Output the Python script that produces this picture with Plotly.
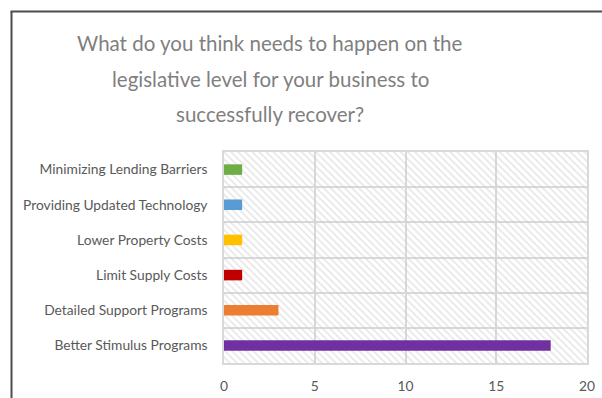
import plotly.graph_objects as go

# Survey responses, listed bottom-to-top as they appear on the chart
categories = [
    "Better Stimulus Programs",
    "Detailed Support Programs",
    "Limit Supply Costs",
    "Lower Property Costs",
    "Providing Updated Technology",
    "Minimizing Lending Barriers",
]
responses = [18, 3, 1, 1, 1, 1]
bar_colors = ["#7030A0", "#ED7D31", "#C00000", "#FFC000", "#5B9BD5", "#70AD47"]

x_ticks = [0, 5, 10, 15, 20]
x_max = 20

title_lines = [
    "What do you think needs to happen on the",
    "legislative level for your business to",
    "successfully recover?",
]

W, H = 602, 398
M_L, M_R, M_T, M_B = 224, 15, 152, 35
plot_w = W - M_L - M_R
plot_h = H - M_T - M_B


def px_x(px):
    return (px - M_L) / plot_w


def px_y(py):
    return (H - M_B - py) / plot_h


fig = go.Figure()

# diagonal hatch behind each category row
fig.add_trace(go.Bar(
    y=categories,
    x=[x_max] * len(categories),
    orientation="h",
    width=1,
    marker=dict(
        color="rgba(0,0,0,0)",
        line=dict(width=0),
        pattern=dict(shape="\\", fgcolor="#cccccc", bgcolor="rgba(0,0,0,0)",
                     size=5, solidity=0.3),
    ),
    hoverinfo="skip",
    showlegend=False,
))

fig.add_trace(go.Bar(
    y=categories,
    x=responses,
    orientation="h",
    width=0.3,
    marker=dict(color=bar_colors, line=dict(width=0)),
    showlegend=False,
))

label_font = dict(family="Lato, sans-serif", size=13.8, color="#595959")

fig.update_layout(
    width=W,
    height=H,
    margin=dict(l=M_L, r=M_R, t=M_T, b=M_B, autoexpand=False),
    paper_bgcolor="white",
    plot_bgcolor="white",
    barmode="overlay",
    xaxis=dict(
        range=[0, x_max],
        tickvals=x_ticks,
        showgrid=True,
        gridcolor="#d9d9d9",
        gridwidth=1.5,
        zeroline=False,
        showline=True,
        mirror=True,
        linecolor="#d9d9d9",
        linewidth=1.5,
        ticks="",
        ticklabelstandoff=10,
        tickfont=label_font,
        automargin=False,
        fixedrange=True,
    ),
    yaxis=dict(
        type="category",
        categoryorder="array",
        categoryarray=categories,
        range=[-0.5, len(categories) - 0.5],
        tickson="boundaries",
        showgrid=True,
        gridcolor="#d9d9d9",
        gridwidth=1.5,
        showline=True,
        mirror=True,
        linecolor="#d9d9d9",
        linewidth=1.5,
        ticks="",
        ticklabelstandoff=12,
        tickfont=label_font,
        automargin=False,
        fixedrange=True,
    ),
)

# multi-line chart title
title_centers = [43, 79, 114]
for text, cy in zip(title_lines, title_centers):
    fig.add_annotation(
        text=text, xref="paper", yref="paper",
        x=px_x(270), y=px_y(cy), xanchor="center", yanchor="middle",
        showarrow=False,
        font=dict(family="Lato, sans-serif", size=20.5, color="#7f7f7f"),
    )

# chart frame (left and top edges)
frame = dict(color="#4d4d4d", width=2)
fig.add_shape(type="line", xref="paper", yref="paper",
              x0=px_x(11.5), x1=px_x(11.5), y0=px_y(11.5), y1=px_y(H + 5), line=frame)
fig.add_shape(type="line", xref="paper", yref="paper",
              x0=px_x(10.5), x1=px_x(W + 5), y0=px_y(11.5), y1=px_y(11.5), line=frame)

fig.write_html("out.html")
